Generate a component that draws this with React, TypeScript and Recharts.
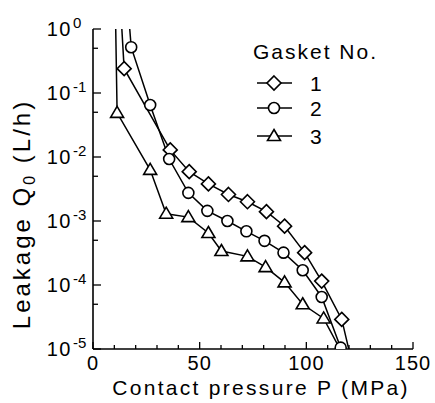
import { LineChart, Line, XAxis, YAxis, Legend, Label } from "recharts";

const seriesNames = ["1", "2", "3"];
const markerShapes = ["diamond", "circle", "triangle"];

// contact pressure P (MPa) and leakage Q0 (L/h); first/last points run off the plot
const gasket1P = [13, 14.6, 36.2, 45.1, 54.1, 63.5, 72.4, 81.3, 89.8, 99.2, 107.2, 116.6, 122];
const gasket1Q = [2, 0.24, 0.0129, 5.9e-3, 3.8e-3, 2.6e-3, 2.0e-3, 1.4e-3, 8.3e-4, 3.2e-4, 1.15e-4, 2.9e-5, 5e-6];
const gasket2P = [16.5, 17.9, 26.8, 35.7, 44.7, 53.6, 63, 71.9, 80.4, 89.3, 98.3, 107.2, 116.1];
const gasket2Q = [2, 0.52, 0.065, 9.3e-3, 2.75e-3, 1.44e-3, 1.0e-3, 6.9e-4, 4.9e-4, 3.2e-4, 1.7e-4, 6.5e-5, 1.05e-5];
const gasket3P = [10.5, 11.3, 26.8, 34.3, 44.7, 54.1, 60.2, 72.4, 80.9, 89.8, 98.3, 108.1, 116.5];
const gasket3Q = [2, 0.049, 6.3e-3, 1.3e-3, 1.15e-3, 6.5e-4, 3.4e-4, 2.8e-4, 1.9e-4, 1.1e-4, 5.0e-5, 3.0e-5, 9e-6];

const xTicks = [0, 10, 20, 30, 40, 50, 60, 70, 80, 90, 100, 110, 120, 130, 140, 150];
const xLabelTicks = [0, 50, 100, 150];
const yTicks = [1e-5, 5e-5, 1e-4, 5e-4, 1e-3, 5e-3, 1e-2, 5e-2, 1e-1, 5e-1, 1];

const toRows = (ps: number[], qs: number[]) => ps.map((p, i) => ({ p, q: qs[i] }));
const series = [
  toRows(gasket1P, gasket1Q),
  toRows(gasket2P, gasket2Q),
  toRows(gasket3P, gasket3Q),
];

const FONT = "'Liberation Sans', Arial, Helvetica, sans-serif";

function MarkerShape({ shape, cx, cy }: { shape: string; cx: number; cy: number }) {
  const common = { fill: "#fff", stroke: "#000", strokeWidth: 1.6 };
  if (shape === "diamond")
    return <polygon points={`${cx},${cy - 7} ${cx + 7},${cy} ${cx},${cy + 7} ${cx - 7},${cy}`} {...common} />;
  if (shape === "circle") return <circle cx={cx} cy={cy} r={5.5} {...common} />;
  return <polygon points={`${cx},${cy - 6.5} ${cx + 6.5},${cy + 4.5} ${cx - 6.5},${cy + 4.5}`} {...common} />;
}

const makeDot = (shape: string) => (props: any) => {
  const { cx, cy, payload, index } = props;
  if (payload.q < 1e-5 || payload.q > 1 || cx == null) return <g key={index} />;
  return (
    <g key={index}>
      <MarkerShape shape={shape} cx={cx} cy={cy} />
    </g>
  );
};

const isMajorY = (v: number) => Math.abs(Math.log10(v) - Math.round(Math.log10(v))) < 1e-6;

function BottomTick({ x, y, payload }: any) {
  const major = payload.value % 50 === 0;
  return (
    <g>
      <line x1={x} x2={x} y1={y} y2={y - (major ? 7 : 4)} stroke="#000" strokeWidth={1.3} />
      {xLabelTicks.includes(payload.value) && (
        <text x={x} y={y + 21} textAnchor="middle" fontSize={20} fontFamily={FONT} letterSpacing={1} fill="#000">
          {payload.value}
        </text>
      )}
    </g>
  );
}

function TopTick({ x, y, payload }: any) {
  const major = payload.value % 50 === 0;
  return <line x1={x} x2={x} y1={y} y2={y + (major ? 7 : 4)} stroke="#000" strokeWidth={1.3} />;
}

function LeftTick({ x, y, payload }: any) {
  const major = isMajorY(payload.value);
  const exp = Math.round(Math.log10(payload.value));
  return (
    <g>
      <line x1={x} x2={x + (major ? 8 : 5)} y1={y} y2={y} stroke="#000" strokeWidth={1.3} />
      {major && (
        <g fontFamily={FONT} fill="#000">
          <text x={x - 21} y={y + 7} textAnchor="end" fontSize={20} letterSpacing={1.5}>10</text>
          <text x={x - 20} y={y - 1} textAnchor="start" fontSize={15}>{exp === 0 ? "0" : `-${-exp}`}</text>
        </g>
      )}
    </g>
  );
}

function RightTick({ x, y, payload }: any) {
  const major = isMajorY(payload.value);
  return <line x1={x} x2={x - (major ? 8 : 4)} y1={y} y2={y} stroke="#000" strokeWidth={1.3} />;
}

function GasketLegend() {
  const rowY = [48, 73, 101];
  return (
    <svg width={160} height={115} style={{ display: "block", overflow: "visible" }}>
      <text x={8} y={24} fontSize={21} fontFamily={FONT} letterSpacing={2} fill="#000">Gasket No.</text>
      {seriesNames.map((name, i) => (
        <g key={name}>
          <line x1={12} x2={47} y1={rowY[i]} y2={rowY[i]} stroke="#000" strokeWidth={1.5} />
          <MarkerShape shape={markerShapes[i]} cx={29} cy={rowY[i]} />
          <text x={65} y={rowY[i] + 8} fontSize={21} fontFamily={FONT} fill="#000">{name}</text>
        </g>
      ))}
    </svg>
  );
}

export default function App() {
  return (
    <div style={{ position: "absolute", left: 0, top: 0, background: "#fff" }}>
      <LineChart width={435} height={403} margin={{ top: 29, right: 22, bottom: 0, left: 0 }}>
        <XAxis
          xAxisId="bottom"
          type="number"
          dataKey="p"
          domain={[0, 150]}
          ticks={xTicks}
          interval={0}
          height={54}
          tickSize={0}
          tickMargin={0}
          tickLine={false}
          tick={<BottomTick />}
          axisLine={{ stroke: "#000", strokeWidth: 1.6 }}
        >
          <Label
            content={() => (
              <text x={261} y={395} textAnchor="middle" fontSize={21} fontFamily={FONT} letterSpacing={2.3} fill="#000">
                Contact pressure P (MPa)
              </text>
            )}
          />
        </XAxis>
        <XAxis
          xAxisId="top"
          orientation="top"
          type="number"
          dataKey="p"
          domain={[0, 150]}
          ticks={xTicks}
          interval={0}
          height={0}
          tickSize={0}
          tickMargin={0}
          tickLine={false}
          tick={<TopTick />}
          axisLine={{ stroke: "#000", strokeWidth: 1.6 }}
        />
        <YAxis
          yAxisId="left"
          type="number"
          scale="log"
          dataKey="q"
          domain={[1e-5, 1]}
          allowDataOverflow
          ticks={yTicks}
          interval={0}
          width={93}
          tickSize={0}
          tickMargin={0}
          tickLine={false}
          tick={<LeftTick />}
          axisLine={{ stroke: "#000", strokeWidth: 1.6 }}
        >
          <Label
            content={() => (
              <text
                transform="translate(30, 214) rotate(-90)"
                textAnchor="middle"
                fontSize={24}
                fontFamily={FONT}
                letterSpacing={3}
                fill="#000"
              >
                Leakage Q
                <tspan fontSize={16} dy={5}>0</tspan>
                <tspan dy={-5}> (L/h)</tspan>
              </text>
            )}
          />
        </YAxis>
        <YAxis
          yAxisId="right"
          orientation="right"
          type="number"
          scale="log"
          dataKey="q"
          domain={[1e-5, 1]}
          allowDataOverflow
          ticks={yTicks}
          interval={0}
          width={0}
          tickSize={0}
          tickMargin={0}
          tickLine={false}
          tick={<RightTick />}
          axisLine={{ stroke: "#000", strokeWidth: 1.6 }}
        />
        <Legend
          layout="vertical"
          align="center"
          verticalAlign="middle"
          wrapperStyle={{ left: 245, top: 35, width: 160 }}
          content={() => <GasketLegend />}
        />
        {series.map((rows, i) => (
          <Line
            key={seriesNames[i]}
            name={seriesNames[i]}
            data={rows}
            dataKey="q"
            xAxisId="bottom"
            yAxisId="left"
            stroke="#000"
            strokeWidth={1.5}
            dot={makeDot(markerShapes[i])}
            activeDot={false}
            isAnimationActive={false}
          />
        ))}
      </LineChart>
    </div>
  );
}
